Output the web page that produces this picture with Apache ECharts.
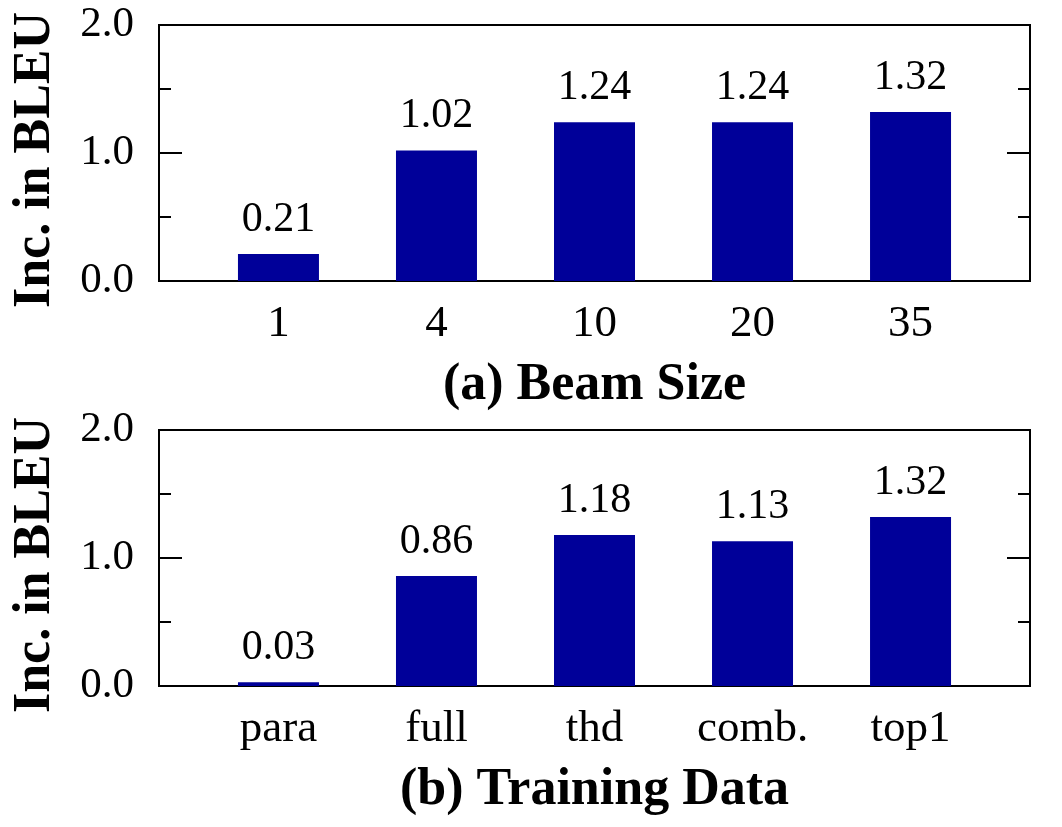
<!DOCTYPE html>
<html>
<head>
<meta charset="utf-8">
<script src="https://cdn.jsdelivr.net/npm/echarts@6/dist/echarts.min.js"></script>
<style>
  html, body { margin: 0; padding: 0; background: #fff; }
  #chart { width: 1062px; height: 827px; }
</style>
</head>
<body>
<div id="chart"></div>
<script>
// panel (a): beam size
const beamSizes = ['1', '4', '10', '20', '35'];
const beamGain = [0.21, 1.02, 1.24, 1.24, 1.32];
// panel (b): training data
const trainData = ['para', 'full', 'thd', 'comb.', 'top1'];
const trainGain = [0.03, 0.86, 1.18, 1.13, 1.32];
const yTicks = [0, 1, 2];

const FONT = '"Liberation Serif", "Times New Roman", serif';
const BAR = '#000099';
const grids = [
    { left: 159, right: 32, top: 25, height: 256 },
    { left: 159, right: 32, top: 430, height: 256 }
];

const makeX = (idx, cats, title) => ({
    type: 'value',
    gridIndex: idx,
    min: -0.756,
    max: 4.756,
    axisLine: { show: false, onZero: false },
    axisTick: { show: false },
    splitLine: { show: false },
    axisLabel: {
        customValues: [0, 1, 2, 3, 4],
        formatter: v => cats[Math.round(v)] || '',
        margin: 21,
        color: '#000',
        fontFamily: FONT,
        fontSize: 45
    },
    name: title,
    nameLocation: 'middle',
    nameGap: 79,
    nameTextStyle: {
        color: '#000',
        fontFamily: FONT,
        fontSize: 52,
        fontWeight: 'bold'
    }
});

const makeY = (idx, side) => ({
    type: 'value',
    gridIndex: idx,
    position: side,
    min: yTicks[0],
    max: yTicks[yTicks.length - 1],
    interval: 1,
    axisLine: { show: false, onZero: false },
    splitLine: { show: false },
    axisTick: {
        show: true,
        inside: true,
        length: 23,
        lineStyle: { color: '#000', width: 2 }
    },
    minorTick: {
        show: true,
        splitNumber: 2,
        length: 12,
        lineStyle: { color: '#000', width: 2 }
    },
    axisLabel: {
        show: side === 'left',
        formatter: v => v.toFixed(1),
        margin: 25,
        color: '#000',
        fontFamily: FONT,
        fontSize: 43
    },
    name: side === 'left' ? 'Inc. in BLEU' : '',
    nameLocation: 'middle',
    nameGap: 97,
    nameTextStyle: {
        color: '#000',
        fontFamily: FONT,
        fontSize: 52,
        fontWeight: 'bold',
        padding: [0, 14, 0, 0]
    }
});

const makeBars = (idx, vals) => ({
    type: 'bar',
    xAxisIndex: idx,
    yAxisIndex: idx * 2,
    barWidth: 81,
    itemStyle: { color: BAR },
    data: vals.map((v, i) => [i, v]),
    label: {
        show: true,
        position: 'top',
        distance: 13,
        formatter: p => p.value[1].toFixed(2),
        color: '#000',
        fontFamily: FONT,
        fontSize: 42
    }
});

const chart = echarts.init(document.getElementById('chart'), null, { renderer: 'canvas' });
chart.setOption({
    animation: false,
    backgroundColor: '#fff',
    grid: grids.map(g => ({ ...g, show: true, borderColor: '#000', borderWidth: 2, backgroundColor: 'transparent' })),
    xAxis: [
        makeX(0, beamSizes, '(a) Beam Size'),
        makeX(1, trainData, '(b) Training Data')
    ],
    yAxis: [
        makeY(0, 'left'), makeY(0, 'right'),
        makeY(1, 'left'), makeY(1, 'right')
    ],
    series: [
        makeBars(0, beamGain),
        makeBars(1, trainGain)
    ]
});
</script>
</body>
</html>
